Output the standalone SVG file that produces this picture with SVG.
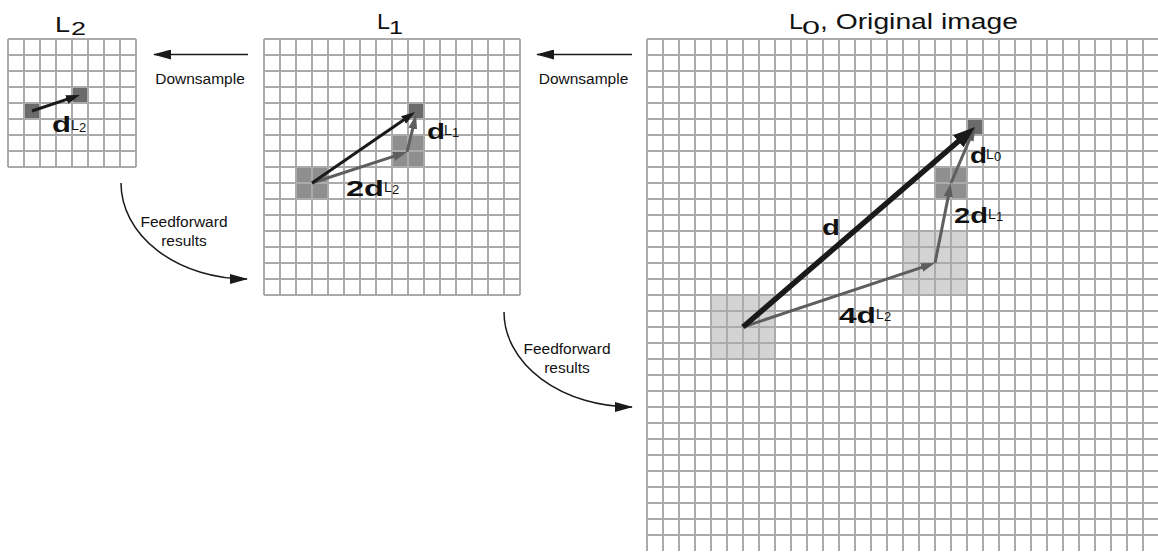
<svg xmlns="http://www.w3.org/2000/svg" width="1158" height="552" viewBox="0 0 1158 552">
<style>
.grid{fill:none;stroke:#ababab;stroke-width:2}
.dk{fill:#6b6b6b}.md{fill:#8f8f8f}.lt{fill:#d3d3d3}
.t{font-family:"Liberation Sans",Arial,sans-serif;font-size:22px;fill:#111}
.ts{font-family:"Liberation Sans",Arial,sans-serif;font-size:18px;fill:#111}
.lb{font-family:"Liberation Sans",Arial,sans-serif;font-size:15.5px;fill:#111}
.b{font-family:"Liberation Sans",Arial,sans-serif;font-size:22px;font-weight:bold;fill:#111}
.s{font-family:"Liberation Sans",Arial,sans-serif;font-size:14px;fill:#111}
.s2{font-family:"Liberation Sans",Arial,sans-serif;font-size:13px;fill:#111}
.ak{fill:none;stroke:#1a1a1a;stroke-width:3;marker-end:url(#hk)}
.ab{fill:none;stroke:#1a1a1a;stroke-width:5.5;marker-end:url(#hb)}
.ag{fill:none;stroke:#5e5e5e;stroke-width:3;marker-end:url(#hg)}
.at{fill:none;stroke:#1a1a1a;stroke-width:1.5;marker-end:url(#ha)}
</style>
<defs>
<marker id="hk" markerUnits="userSpaceOnUse" markerWidth="14" markerHeight="10" refX="8" refY="4.5" orient="auto"><path d="M0,0L14,4.5L0,9z" fill="#1a1a1a"/></marker>
<marker id="hb" markerUnits="userSpaceOnUse" markerWidth="22" markerHeight="16" refX="12" refY="8" orient="auto"><path d="M0,0L22,8L0,16z" fill="#1a1a1a"/></marker>
<marker id="hg" markerUnits="userSpaceOnUse" markerWidth="14" markerHeight="10" refX="8" refY="4.5" orient="auto"><path d="M0,0L14,4.5L0,9z" fill="#5e5e5e"/></marker>
<marker id="ha" markerUnits="userSpaceOnUse" markerWidth="19" markerHeight="10" refX="17" refY="5" orient="auto"><path d="M0,0L18,5L0,10z" fill="#1a1a1a"/></marker>
</defs>

<g id="L2">
<rect class="dk" x="24" y="103" width="16" height="16"/>
<rect class="dk" x="72" y="87" width="16" height="16"/>
<path class="grid" d="M8 39v128m16-128v128m16-128v128m16-128v128m16-128v128m16-128v128m16-128v128m16-128v128m16-128v128M8 39h128m-128 16h128m-128 16h128m-128 16h128m-128 16h128m-128 16h128m-128 16h128m-128 16h128m-128 16h128"/>
<path class="ak" d="M32 111L74.3 96.9"/>
<text class="t" x="55" y="32" textLength="15" lengthAdjust="spacingAndGlyphs">L</text><text class="ts" x="71" y="35" textLength="15" lengthAdjust="spacingAndGlyphs">2</text>
<text class="b" x="52" y="132" textLength="19" lengthAdjust="spacingAndGlyphs">d</text><text class="s" x="71" y="129.5">L</text><text class="s2" x="79" y="131.5">2</text>
</g>

<g id="L1">
<rect class="md" x="296" y="167" width="32" height="32"/>
<rect class="md" x="392" y="135" width="32" height="32"/>
<rect class="dk" x="408" y="103" width="16" height="16"/>
<path class="grid" d="M264 39v256m16-256v256m16-256v256m16-256v256m16-256v256m16-256v256m16-256v256m16-256v256m16-256v256m16-256v256m16-256v256m16-256v256m16-256v256m16-256v256m16-256v256m16-256v256m16-256v256M264 39h256m-256 16h256m-256 16h256m-256 16h256m-256 16h256m-256 16h256m-256 16h256m-256 16h256m-256 16h256m-256 16h256m-256 16h256m-256 16h256m-256 16h256m-256 16h256m-256 16h256m-256 16h256m-256 16h256"/>
<path class="ag" d="M312 183L401.3 153.9"/>
<path class="ag" d="M407 152L414.6 120.8"/>
<path class="ak" d="M312 183L410.1 115.4"/>
<text class="t" x="377" y="29" textLength="13" lengthAdjust="spacingAndGlyphs">L</text><text class="ts" x="389" y="34" textLength="14" lengthAdjust="spacingAndGlyphs">1</text>
<text class="b" x="346" y="196" textLength="38" lengthAdjust="spacingAndGlyphs">2d</text><text class="s" x="384" y="192">L</text><text class="s2" x="392" y="194">2</text>
<text class="b" x="427" y="139" textLength="18" lengthAdjust="spacingAndGlyphs">d</text><text class="s" x="444" y="135">L</text><text class="s2" x="452" y="137">1</text>
</g>

<g id="L0">
<rect class="lt" x="711" y="295" width="64" height="64"/>
<rect class="lt" x="903" y="231" width="64" height="64"/>
<rect class="md" x="935" y="167" width="32" height="32"/>
<rect class="dk" x="967" y="119" width="16" height="16"/>
<path class="grid" d="M647 39v512m16-512v512m16-512v512m16-512v512m16-512v512m16-512v512m16-512v512m16-512v512m16-512v512m16-512v512m16-512v512m16-512v512m16-512v512m16-512v512m16-512v512m16-512v512m16-512v512m16-512v512m16-512v512m16-512v512m16-512v512m16-512v512m16-512v512m16-512v512m16-512v512m16-512v512m16-512v512m16-512v512m16-512v512m16-512v512m16-512v512m16-512v512m16-512v512M647 39h512m-512 16h512m-512 16h512m-512 16h512m-512 16h512m-512 16h512m-512 16h512m-512 16h512m-512 16h512m-512 16h512m-512 16h512m-512 16h512m-512 16h512m-512 16h512m-512 16h512m-512 16h512m-512 16h512m-512 16h512m-512 16h512m-512 16h512m-512 16h512m-512 16h512m-512 16h512m-512 16h512m-512 16h512m-512 16h512m-512 16h512m-512 16h512m-512 16h512m-512 16h512m-512 16h512m-512 16h512"/>
<path class="ag" d="M743 327L929.3 264.9"/>
<path class="ag" d="M935 263L949.8 188.9"/>
<path class="ag" d="M951 183L972.6 132.5"/>
<path class="ab" d="M743 327L967.4 133.5"/>
<text class="t" x="789" y="29" textLength="14" lengthAdjust="spacingAndGlyphs">L</text><text class="ts" x="802" y="34" textLength="18" lengthAdjust="spacingAndGlyphs">0</text><text class="t" x="820" y="29" textLength="198" lengthAdjust="spacingAndGlyphs">, Original image</text>
<text class="b" x="822" y="235" textLength="18" lengthAdjust="spacingAndGlyphs">d</text>
<text class="b" x="839" y="323" textLength="37" lengthAdjust="spacingAndGlyphs">4d</text><text class="s" x="876" y="319">L</text><text class="s2" x="884" y="321">2</text>
<text class="b" x="954" y="223" textLength="34" lengthAdjust="spacingAndGlyphs">2d</text><text class="s" x="988" y="219">L</text><text class="s2" x="996" y="221">1</text>
<text class="b" x="970" y="163" textLength="17" lengthAdjust="spacingAndGlyphs">d</text><text class="s" x="986" y="159">L</text><text class="s2" x="994" y="161">0</text>
</g>

<g id="connectors">
<path class="at" d="M248 54.5H154"/>
<text class="lb" x="200" y="84" text-anchor="middle">Downsample</text>
<path class="at" d="M632 54.5H537"/>
<text class="lb" x="583.5" y="84" text-anchor="middle">Downsample</text>
<path class="at" d="M121 183A126 96 0 0 0 247 279"/>
<text class="lb" x="184" y="227" text-anchor="middle">Feedforward</text>
<text class="lb" x="184" y="246" text-anchor="middle">results</text>
<path class="at" d="M504 312A128 95 0 0 0 632 407"/>
<text class="lb" x="567" y="354" text-anchor="middle">Feedforward</text>
<text class="lb" x="567" y="373" text-anchor="middle">results</text>
</g>
</svg>
